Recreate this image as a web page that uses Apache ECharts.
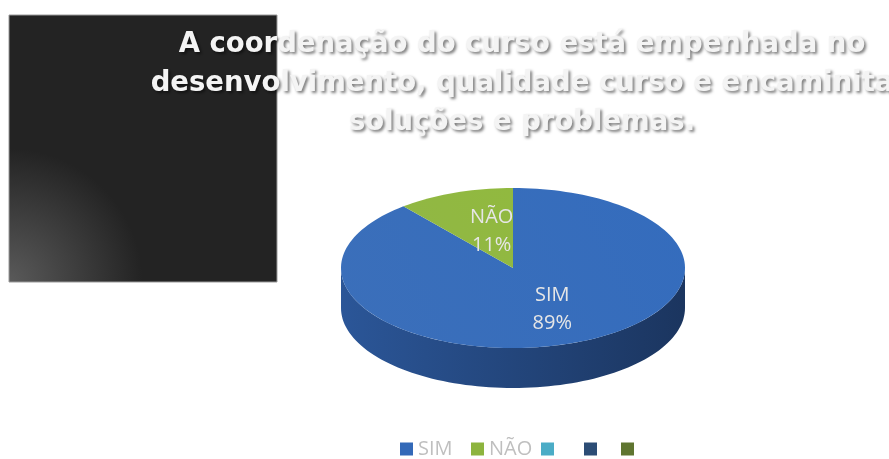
<!DOCTYPE html>
<html>
<head>
<meta charset="utf-8">
<script src="https://cdn.jsdelivr.net/npm/echarts@6/dist/echarts.min.js"></script>
<style>
  html, body { margin: 0; padding: 0; background: #fff; }
  #chart { width: 889px; height: 459px; }
</style>
</head>
<body>
<div id="chart"></div>
<script>
// dados do gráfico
var categorias = ['SIM', 'NÃO', '\u200b', '\u200b\u200b', '\u200b\u200b\u200b'];
var valores = [89, 11, 0, 0, 0];
var rotulos = ['89%', '11%', '', '', ''];
var titulo = 'A coordenação do curso está empenhada no\ndesenvolvimento, qualidade curso e encaminita\nsoluções e problemas.';

// cores (topo, lateral esquerda, lateral direita)
var coresTopo = ['#3369b8', '#8db43e', '#4bacc6', '#2c4d75', '#5f7530'];
var coresLado = [['#2b5698', '#1b355f'], ['#6b8a2c', '#55701f'], ['#3a8aa0', '#2a6b7d'], ['#213a59', '#182b42'], ['#485a24', '#37461b']];

// geometria da pizza 3D
var cx = 513, cy = 268, rx = 172, ry = 80, prof = 40;

var total = valores.reduce(function (a, b) { return a + b; }, 0);
var inicios = [];
var acc = 0;
for (var i = 0; i < valores.length; i++) {
    inicios.push(acc / total * 360);
    acc += valores[i];
}

function pt(graus, dy) {
    var t = graus * Math.PI / 180;
    return [cx + rx * Math.sin(t), cy - ry * Math.cos(t) + (dy || 0)];
}

function arco(a0, a1, dy) {
    var pts = [];
    var n = Math.max(2, Math.ceil((a1 - a0) / 2));
    for (var k = 0; k <= n; k++) {
        pts.push(pt(a0 + (a1 - a0) * k / n, dy));
    }
    return pts;
}

function renderFatia(idx) {
    return function (params, api) {
        var v = api.value(0);
        if (!v) return;
        var a0 = inicios[idx];
        var a1 = a0 + v / total * 360;
        var filhos = [];
        // lateral (só a parte da frente, entre 90 e 270 graus)
        var s0 = Math.max(a0, 90), s1 = Math.min(a1, 270);
        if (s1 > s0) {
            var topo = arco(s0, s1, 0);
            var base = arco(s0, s1, prof).reverse();
            filhos.push({
                type: 'polygon',
                z2: 1,
                shape: { points: topo.concat(base) },
                style: {
                    fill: new echarts.graphic.LinearGradient(0, 0, 1, 0, [
                        { offset: 0, color: coresLado[idx][0] },
                        { offset: 1, color: coresLado[idx][1] }
                    ])
                }
            });
        }
        // topo
        filhos.push({
            type: 'polygon',
            z2: 10,
            shape: { points: [[cx, cy]].concat(arco(a0, a1, 0)) },
            style: {
                fill: new echarts.graphic.LinearGradient(1, 0, 0, 1, [
                    { offset: 0, color: echarts.color.lift(coresTopo[idx], -0.03) },
                    { offset: 1, color: echarts.color.lift(coresTopo[idx], 0.04) }
                ])
            }
        });
        // rótulo
        var meio = (a0 + a1) / 2 * Math.PI / 180;
        filhos.push({
            type: 'text',
            z2: 20,
            x: cx + 9 + rx * 0.52 * Math.sin(meio),
            y: cy + 2 - ry * 0.52 * Math.cos(meio),
            style: {
                text: categorias[idx] + '\n' + rotulos[idx],
                fill: '#e6e6e6',
                font: '20px "Open Sans", sans-serif',
                lineHeight: 28,
                align: 'center',
                verticalAlign: 'middle'
            }
        });
        return { type: 'group', children: filhos };
    };
}

var series = categorias.map(function (nome, i) {
    return {
        type: 'custom',
        name: nome,
        coordinateSystem: 'none',
        silent: true,
        itemStyle: { color: coresTopo[i] },
        data: valores[i] ? [[valores[i]]] : [],
        renderItem: renderFatia(i)
    };
});

// posição x de cada item da legenda
var legendaX = [400, 471, 541, 584, 621];
var legendas = categorias.map(function (nome, i) {
    return {
        data: [nome],
        top: 439,
        left: legendaX[i],
        padding: 0,
        icon: 'rect',
        itemWidth: 13,
        itemHeight: 13,
        selectedMode: false,
        textStyle: {
            color: '#bfbfbf',
            fontSize: 20,
            fontFamily: '"Open Sans", sans-serif'
        }
    };
});

var myChart = echarts.init(document.getElementById('chart'));
var option = {
    backgroundColor: '#ffffff',
    animation: false,
    graphic: [{
        type: 'rect',
        z: -10,
        shape: { x: 9, y: 15, width: 268, height: 267 },
        style: {
            fill: new echarts.graphic.RadialGradient(0, 1, 0.5, [
                { offset: 0, color: '#5a5a5a' },
                { offset: 1, color: '#232323' }
            ]),
            stroke: '#9a9a9a',
            lineWidth: 1
        }
    }],
    title: {
        text: titulo,
        left: 517,
        top: 20,
        textAlign: 'center',
        textStyle: {
            color: '#f4f4f4',
            fontFamily: '"DejaVu Sans", sans-serif',
            fontWeight: 'bold',
            fontSize: 27.5,
            lineHeight: 39,
            textShadowColor: 'rgba(0,0,0,0.5)',
            textShadowBlur: 3,
            textShadowOffsetX: 2,
            textShadowOffsetY: 2
        }
    },
    legend: legendas,
    series: series
};
myChart.setOption(option);
</script>
</body>
</html>
